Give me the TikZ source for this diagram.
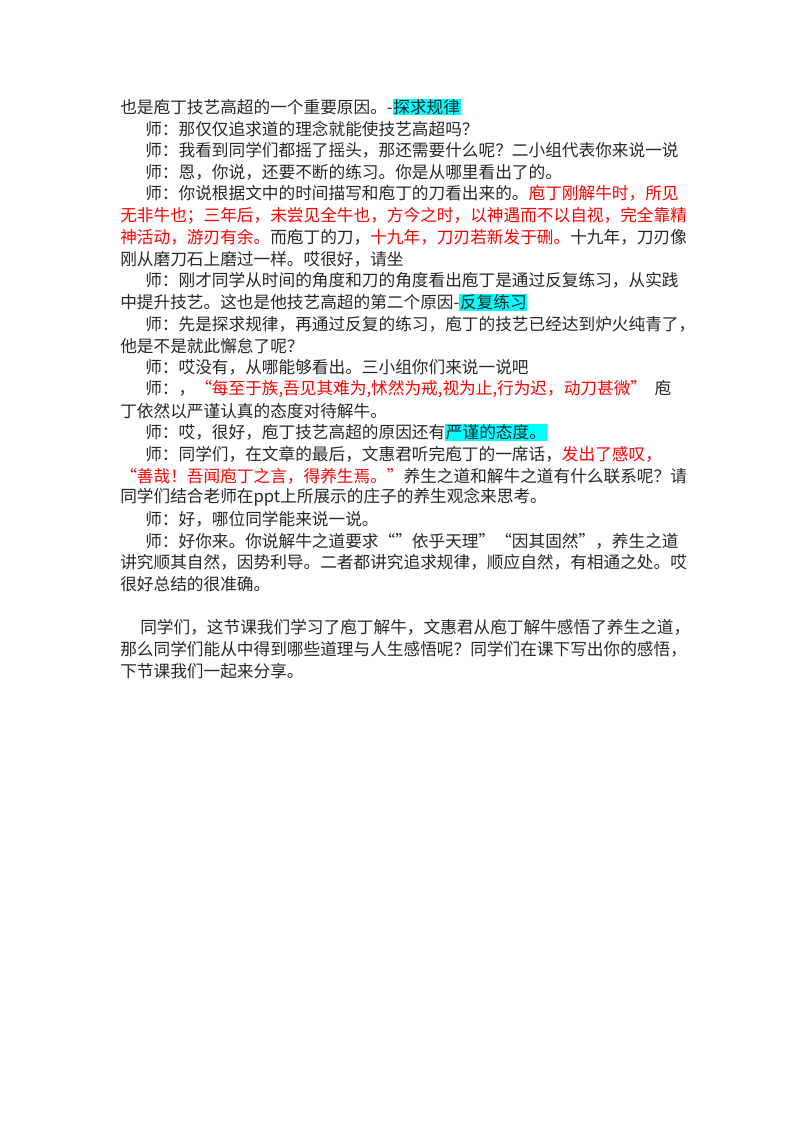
\documentclass[tikz,border=0pt]{standalone}
\usepackage{fontspec}
\setmainfont{Noto Sans CJK SC}
\definecolor{hl}{RGB}{0,255,255}
\definecolor{rd}{RGB}{255,0,0}
\newcommand{\hlx}[1]{{\setlength{\fboxsep}{0.5pt}\colorbox{hl}{#1}}}
\newcommand{\rdx}[1]{\textcolor{rd}{#1}}
\begin{document}
\begin{tikzpicture}[x=0.75pt,y=-0.75pt,
  ln/.style={anchor=west,inner sep=0pt,font=\fontsize{12.5pt}{14pt}\selectfont,text=black!85}]
\useasboundingbox (0,0) rectangle (800,1132);
\node[ln] (l1) at (120,107) {也是庖丁技艺高超的一个重要原因。-\hlx{探求规律}};
\node[ln] (l2) at (145,128.7) {师：那仅仅追求道的理念就能使技艺高超吗？};
\node[ln] (l3) at (145,150.4) {师：我看到同学们都摇了摇头，那还需要什么呢？二小组代表你来说一说};
\node[ln] (l4) at (145,172.1) {师：恩，你说，还要不断的练习。你是从哪里看出了的。};
\node[ln] (l5) at (145,193.8) {师：你说根据文中的时间描写和庖丁的刀看出来的。\rdx{庖丁刚解牛时，所见}};
\node[ln] (l6) at (120,215.5) {\rdx{无非牛也；三年后，未尝见全牛也，方今之时，以神遇而不以自视，完全靠精}};
\node[ln] (l7) at (120,237.2) {\rdx{神活动，游刃有余。}而庖丁的刀，\rdx{十九年，刀刃若新发于硎。}十九年，刀刃像};
\node[ln] (l8) at (120,258.9) {刚从磨刀石上磨过一样。哎很好，请坐};
\node[ln] (l9) at (145,280.6) {师：刚才同学从时间的角度和刀的角度看出庖丁是通过反复练习，从实践};
\node[ln] (l10) at (120,302.3) {中提升技艺。这也是他技艺高超的第二个原因-\hlx{反复练习}};
\node[ln] (l11) at (145,324) {师：先是探求规律，再通过反复的练习，庖丁的技艺已经达到炉火纯青了，};
\node[ln] (l12) at (120,345.7) {他是不是就此懈怠了呢？};
\node[ln] (l13) at (145,367.4) {师：哎没有，从哪能够看出。三小组你们来说一说吧};
\node[ln] (l14) at (145,389.1) {师：，\rdx{“每至于族,吾见其难为,怵然为戒,视为止,行为迟，动刀甚微”}\ \ 庖};
\node[ln] (l15) at (120,410.8) {丁依然以严谨认真的态度对待解牛。};
\node[ln] (l16) at (145,432.5) {师：哎，很好，庖丁技艺高超的原因还有\hlx{严谨的态度。}};
\node[ln] (l17) at (145,454.2) {师：同学们，在文章的最后，文惠君听完庖丁的一席话，\rdx{发出了感叹，}};
\node[ln] (l18) at (120,475.9) {\rdx{“善哉！吾闻庖丁之言，得养生焉。”}养生之道和解牛之道有什么联系呢？请};
\node[ln] (l19) at (120,497.6) {同学们结合老师在ppt上所展示的庄子的养生观念来思考。};
\node[ln] (l20) at (145,519.3) {师：好，哪位同学能来说一说。};
\node[ln] (l21) at (145,541) {师：好你来。你说解牛之道要求“”依乎天理”“因其固然”，养生之道};
\node[ln] (l22) at (120,562.7) {讲究顺其自然，因势利导。二者都讲究追求规律，顺应自然，有相通之处。哎};
\node[ln] (l23) at (120,584.4) {很好总结的很准确。};
\node[ln] (l24) at (140,627.8) {同学们，这节课我们学习了庖丁解牛，文惠君从庖丁解牛感悟了养生之道，};
\node[ln] (l25) at (120,649.5) {那么同学们能从中得到哪些道理与人生感悟呢？同学们在课下写出你的感悟，};
\node[ln] (l26) at (120,671.2) {下节课我们一起来分享。};
\end{tikzpicture}
\end{document}
